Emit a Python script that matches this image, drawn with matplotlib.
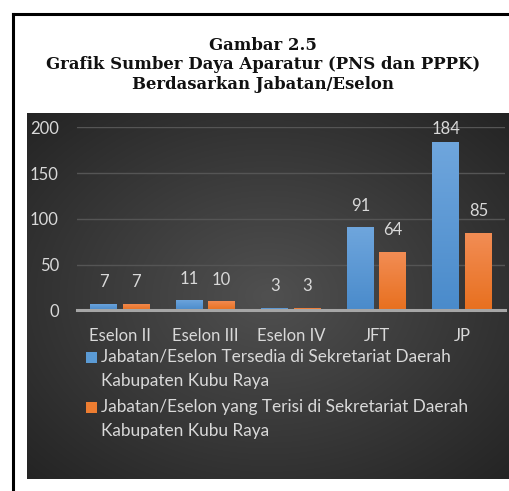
import numpy as np
import matplotlib
matplotlib.use("Agg")
import matplotlib.pyplot as plt
from matplotlib.patches import Rectangle
from matplotlib.lines import Line2D
from matplotlib.colors import to_rgb

categories = ["Eselon II", "Eselon III", "Eselon IV", "JFT", "JP"]
tersedia = [7, 11, 3, 91, 184]
terisi = [7, 10, 3, 64, 85]
series_names = [
    "Jabatan/Eselon Tersedia di Sekretariat Daerah\nKabupaten Kubu Raya",
    "Jabatan/Eselon yang Terisi di Sekretariat Daerah\nKabupaten Kubu Raya",
]
yticks = [0, 50, 100, 150, 200]
title_lines = ["Gambar 2.5",
               "Grafik Sumber Daya Aparatur (PNS dan PPPK)",
               "Berdasarkan Jabatan/Eselon"]

BLUE = "#5b9bd5"
BLUE_TOP, BLUE_BOT = "#6fa6dd", "#4a8bcb"
ORANGE = "#ed7d31"
ORANGE_TOP, ORANGE_BOT = "#f28d55", "#e8701f"
TXT = "#d9d9d9"
FONT = "Lato"

W, H = 510, 491
fig = plt.figure(figsize=(W / 100, H / 100), dpi=100)
fig.patch.set_facecolor("white")

def fx(px):
    return px / W

def fy(py):
    return 1 - py / H

# border lines
fig.add_artist(Line2D([fx(13), 1.0], [fy(13.5), fy(13.5)], color="black", lw=2.2))
fig.add_artist(Line2D([fx(13), fx(13)], [fy(13.5), 0.0], color="black", lw=2.2))

# title
for i, t in enumerate(title_lines):
    fig.text(fx(263), fy(45.5 + i * 19.3), t, ha="center", va="center",
             family="DejaVu Serif", weight="bold", fontsize=11.9, color="#111111")

# dark background with radial gradient
bg = fig.add_axes([fx(27), fy(479), 1 - fx(27), fy(113) - fy(479)])
bg.set_axis_off()
nx, ny = 400, 300
xx, yy = np.meshgrid(np.linspace(-1, 1, nx), np.linspace(-1, 1, ny))
r = np.sqrt(xx ** 2 + yy ** 2) / np.sqrt(2)
c0 = np.array([0x50, 0x50, 0x50]) / 255
c1 = np.array([0x24, 0x24, 0x24]) / 255
img = c0[None, None, :] * (1 - r[..., None]) + c1[None, None, :] * r[..., None]
bg.imshow(img, aspect="auto", extent=[0, 1, 0, 1], interpolation="bilinear")
bg.set_xlim(0, 1)
bg.set_ylim(0, 1)

# main axes
ax = fig.add_axes([fx(77), fy(310.3), fx(505) - fx(77), fy(127.3) - fy(310.3)])
ax.patch.set_alpha(0)
x = np.arange(len(categories))
bw = 0.315
off = 0.19
b1 = ax.bar(x - off, tersedia, bw, color=BLUE, zorder=3)
b2 = ax.bar(x + off, terisi, bw, color=ORANGE, zorder=3)

def grad_fill(bars, ctop, cbot):
    t = np.array(to_rgb(ctop))
    b = np.array(to_rgb(cbot))
    g = np.linspace(0, 1, 64)[:, None]
    col = (b[None, :] * (1 - g) + t[None, :] * g)[:, None, :]
    for rect in bars:
        x0 = rect.get_x()
        im = ax.imshow(col, extent=[x0, x0 + rect.get_width(), 0, rect.get_height()],
                       origin="lower", aspect="auto", zorder=3.5, interpolation="bilinear")
        im.set_clip_path(rect)

grad_fill(b1, BLUE_TOP, BLUE_BOT)
grad_fill(b2, ORANGE_TOP, ORANGE_BOT)

ax.set_xlim(-0.5, len(categories) - 0.5)
ax.set_ylim(0, 200)

# data labels: above bars, kept inside the chart area
px_per_unit = (310.3 - 127.3) / 200.0
label_gap_units = 16.5 / px_per_unit
label_max = (310.3 - 134) / px_per_unit
for bars in (b1, b2):
    for rect in bars:
        h = rect.get_height()
        ylab = min(h + label_gap_units, label_max)
        ax.text(rect.get_x() + rect.get_width() / 2, ylab, f"{h:g}",
                ha="center", va="baseline", color=TXT, fontsize=12,
                family=FONT, clip_on=False)

ax.set_yticks(yticks)
ax.set_xticks(x)
ax.set_xticklabels(categories)
ax.tick_params(axis="both", length=0, colors=TXT, labelsize=12)
ax.tick_params(axis="y", pad=13)
ax.tick_params(axis="x", pad=13)
for lab in ax.get_xticklabels() + ax.get_yticklabels():
    lab.set_family(FONT)
ax.grid(axis="y", color="#555555", lw=1.0, zorder=0)
ax.set_axisbelow(True)
for s in ["top", "right", "left"]:
    ax.spines[s].set_visible(False)
ax.spines["bottom"].set_color("#a6a6a6")
ax.spines["bottom"].set_linewidth(2.2)
ax.spines["bottom"].set_zorder(4)

# legend (manual)
for i, (name, col) in enumerate(zip(series_names, [BLUE, ORANGE])):
    ytop = 357 + i * 50
    fig.add_artist(Rectangle((fx(86), fy(ytop + 5.5)), fx(97) - fx(86), fy(ytop - 5.5) - fy(ytop + 5.5),
                             transform=fig.transFigure, facecolor=col, edgecolor="none"))
    lines = name.split("\n")
    for j, ln in enumerate(lines):
        fig.text(fx(101), fy(ytop + j * 24), ln, ha="left", va="center",
                 color=TXT, fontsize=12.4, family=FONT)

fig.savefig("out.png", dpi=100)
